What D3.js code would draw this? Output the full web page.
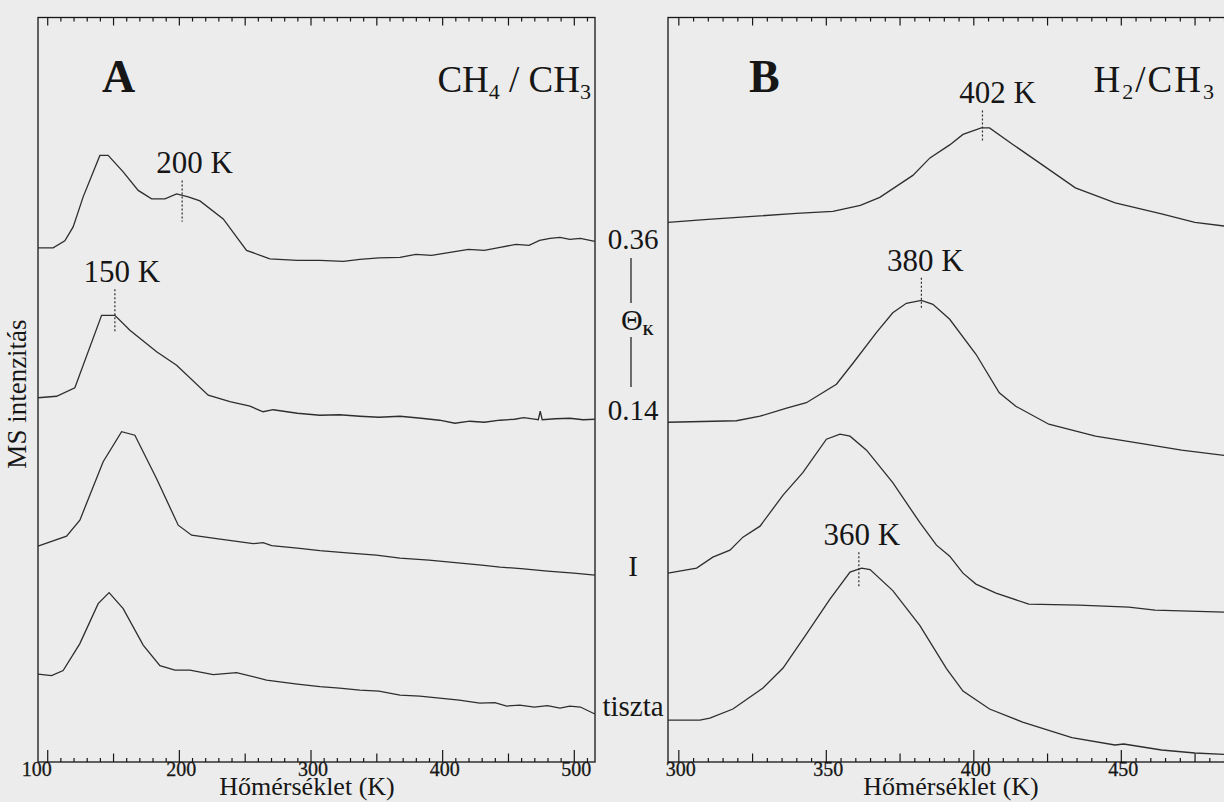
<!DOCTYPE html>
<html>
<head>
<meta charset="utf-8">
<script src="https://cdn.jsdelivr.net/npm/d3@7"></script>
<style>
body { margin: 0; background: #ececec; }
svg { display: block; font-family: "Liberation Serif", "Times New Roman", serif; }
</style>
</head>
<body>
<script>
// A panel: CH4 / CH3, [T (K), MS intensity (a.u.)]
var curveA036 = [[93,102.9],[104.5,102.9],[113.4,104.3],[119.7,107.1],[127.3,113.1],[140,121.4],[146.3,121.4],[157.7,118.1],[169.1,114.4],[179.3,112.7],[189.4,112.7],[198.3,113.7],[207.1,113.1],[216,112.3],[233.7,108.7],[251.4,102.4],[269.1,100.7],[290,100.4],[307.1,100.4],[325,100.2],[337.5,100.6],[352,100.9],[368,101],[380,101.6],[392,101.4],[406,102],[420,102.6],[432,102.4],[444,103],[456,103.6],[466,103.4],[474,104.4],[482,104.8],[489.5,105],[497,104.6],[505,104.8],[516,104.2]]
var curveA014 = [[93,72.9],[107.1,73.2],[121,74.9],[141.3,89.4],[151.4,89.4],[162.8,86.4],[183.1,82.1],[198.3,79.4],[222.3,73.4],[238.8,72.1],[254,71.2],[264,70.1],[271.7,70.5],[290,69.8],[307.1,69.4],[322,69.5],[337.5,69.2],[352,69],[368,69.2],[384,68.8],[398,68.4],[409.7,67.8],[421,68.2],[432,68],[443.9,68.4],[455,68.6],[462,68.9],[470,68.6],[473,68.5],[474.5,70.2],[476,68.5],[486,68.7],[497,68.8],[507,68.5],[516,68.6]]
var curveAI = [[93,43.2],[114.7,45.2],[124.8,48.4],[142.5,60.1],[156.5,66.1],[166.6,65.4],[183.1,56.7],[199.5,47.4],[209.7,45.4],[228.6,44.7],[256.5,43.7],[264,43.9],[270.4,43.3],[290,42.8],[307.1,42.3],[330,41.8],[350,41.4],[368,40.8],[390,40.4],[410,39.9],[430,39.4],[444,39],[460,38.7],[480,38.2],[500,37.8],[516,37.4]]
var curveAclean = [[93,17.6],[103.3,17.3],[112.1,18.3],[124.8,23.7],[138.7,31.7],[147,33.9],[157.7,30.7],[172.9,23.4],[185.6,19.3],[197,18.4],[208.4,18.4],[226.1,17.5],[243.8,17.9],[266.6,16.4],[290,15.6],[307.1,15.1],[322,14.8],[337.5,14.4],[352,14.2],[368,13.4],[383,13.2],[398,12.8],[413,12.4],[428.6,11.8],[440,11.9],[449,11.2],[459,11.4],[470,11],[480,11.3],[489.5,10.8],[497,11.2],[505,11],[516,9.6]]

// B panel: H2 / CH3
var curveB036 = [[296.5,108],[310,108.6],[327.7,109.3],[340,109.8],[352.4,110.2],[361.7,111.4],[368.3,113],[379.5,117.4],[385.3,120.9],[392,123.5],[396.5,125.6],[402.7,126.9],[405.5,126.9],[413.4,123.6],[423.4,119.5],[434.6,114.9],[448.1,111.9],[463.8,109.7],[475.1,108],[490,106.9]]
var curveB014 = [[296.5,68],[319.7,68.3],[327.7,69.2],[336.7,70.8],[343.4,71.9],[353.6,75.6],[359.2,79.8],[367.2,86],[372.7,89.9],[377.3,91.8],[382.4,92.4],[386.3,91.6],[392,88.6],[400.9,81.6],[408.8,73.9],[414.4,71.2],[425.6,67.6],[441.4,65.2],[458.2,63.6],[470.6,62.4],[490,61]]
var curveBI = [[296.5,37.8],[306.2,38.8],[311.7,41],[317.5,42.4],[321.9,45],[327.7,47.2],[335.5,53.4],[342.2,57.9],[350.2,64.6],[354.8,65.6],[358.2,65.2],[363.8,62.4],[372.7,55.9],[381.9,47.9],[387.5,43.4],[392,41.2],[396.5,37.8],[400.9,35.6],[407.7,33.8],[418.8,31.6],[435.8,31.4],[452.7,31],[461.6,30.4],[490,29.9]]
var curveBclean = [[296.5,8.4],[307.3,8.4],[310.7,8.8],[318.5,10.6],[328.7,14.8],[335.5,18.8],[343.4,25.6],[351.4,32.6],[358.2,38],[362.1,38.8],[365,38.5],[372.7,34.3],[381.9,27.3],[390.9,18.7],[396.5,14.2],[405.5,10.6],[416.7,8],[433.4,4.9],[448,3.4],[451,3.6],[463.8,2.4],[475.1,1.8],[490,1.4]]

// peak markers: label, T, top and bottom of dotted line (a.u.)
var markersA = [{label:"150 K", t:151.4, top:94.6, bottom:86.1}, {label:"200 K", t:202.5, top:116.4, bottom:108.1}]
var markersB = [{label:"402 K", t:403.1, top:130.4, bottom:124.2}, {label:"380 K", t:382.4, top:96.9, bottom:90.5}, {label:"360 K", t:361.2, top:42, bottom:35}]

var ticksA = [100, 200, 300, 400, 500]
var ticksB = [300, 350, 400, 450]
var coverageLabels = ["0.36", "0.14", "I", "tiszta"]

var W = 1224, H = 802
var plotTop = 17.5, plotBottom = 762
var svg = d3.select("body").append("svg").attr("width", W).attr("height", H)

var y = d3.scaleLinear().domain([0, 149]).range([plotBottom, plotTop])
var xA = d3.scaleLinear().domain([93, 516.1]).range([38, 595])
var xB = d3.scaleLinear().domain([296.5, 500]).range([668, 1268.3])

var ink = "#161616"
var lineCol = "#2e2e2e"

// label offsets (px) relative to dotted marker
var labelDx = {"150 K": 7, "200 K": 12.5, "402 K": 15, "380 K": 4, "360 K": 3}

function panel(x, curves, markers, lo, hi, minor, mid, major, topMajor, labels, firstDx) {
  var g = svg.append("g")

  g.append("rect")
    .attr("x", x.range()[0]).attr("y", plotTop)
    .attr("width", x.range()[1] - x.range()[0]).attr("height", plotBottom - plotTop)
    .attr("fill", "none").attr("stroke", ink).attr("stroke-width", 1.3)

  // bottom ticks (inward)
  var bAx = g.append("g").attr("transform", "translate(0," + plotBottom + ")")
    .call(d3.axisBottom(x).tickValues(d3.range(lo, hi + 0.1, minor)).tickSize(-4).tickFormat(""))
  bAx.select(".domain").remove()
  bAx.selectAll(".tick line")
    .attr("y2", d => d % major === 0 ? -12 : d % mid === 0 ? -8.5 : -4)
    .attr("stroke", ink).attr("stroke-width", 1.2)

  // tick labels
  var lAx = g.append("g").attr("transform", "translate(0," + plotBottom + ")")
    .call(d3.axisBottom(x).tickValues(labels).tickSize(0).tickPadding(0))
  lAx.select(".domain").remove()
  lAx.selectAll("text")
    .attr("font-family", "Liberation Serif").attr("font-size", 20).attr("fill", ink)
    .attr("stroke", ink).attr("stroke-width", 0.3)
    .attr("dx", (d, i) => i === 0 ? firstDx : 2)

  // top ticks (inward)
  var tAx = g.append("g").attr("transform", "translate(0," + plotTop + ")")
    .call(d3.axisTop(x).tickValues(d3.range(lo, hi + 0.1, minor)).tickSize(-4).tickFormat(""))
  tAx.select(".domain").remove()
  tAx.selectAll(".tick line")
    .attr("y2", d => d % topMajor === 0 ? 8 : 4)
    .attr("stroke", ink).attr("stroke-width", 1.2)

  var line = d3.line().x(d => x(d[0])).y(d => y(d[1]))
  g.selectAll("path.curve").data(curves).enter().append("path")
    .attr("class", "curve")
    .attr("d", line)
    .attr("fill", "none").attr("stroke", lineCol).attr("stroke-width", 1.3)

  g.selectAll("line.mark").data(markers).enter().append("line")
    .attr("class", "mark")
    .attr("x1", d => x(d.t)).attr("x2", d => x(d.t))
    .attr("y1", d => y(d.top)).attr("y2", d => y(d.bottom))
    .attr("stroke", lineCol).attr("stroke-width", 1.2).attr("stroke-dasharray", "2,2")

  g.selectAll("text.mark").data(markers).enter().append("text")
    .attr("class", "mark")
    .attr("x", d => x(d.t) + labelDx[d.label]).attr("y", d => y(d.top) - 7)
    .attr("text-anchor", "middle").attr("font-size", 31).attr("fill", ink)
    .text(d => d.label)
  return g
}

panel(xA, [curveA036, curveA014, curveAI, curveAclean], markersA, 100, 510, 10, 50, 100, 50, ticksA, -11)
panel(xB, [curveB036, curveB014, curveBI, curveBclean], markersB, 300, 495, 5, 25, 50, 25, ticksB, 2)

// panel letters and gas labels
svg.append("text").attr("x", 102).attr("y", 92).attr("font-size", 46).attr("font-weight", "bold").attr("fill", ink).text("A")
svg.append("text").attr("x", 749).attr("y", 92).attr("font-size", 46).attr("font-weight", "bold").attr("fill", ink).text("B")

function chem(xPos, parts, spacing) {
  var t = svg.append("text").attr("x", xPos).attr("y", 92).attr("text-anchor", "end")
    .attr("font-size", 37).attr("letter-spacing", spacing).attr("fill", ink)
  parts.forEach(function(p) {
    if (p.sub) t.append("tspan").attr("font-size", 22).attr("dy", 7).text(p.s)
    else t.append("tspan").attr("dy", p.after ? -7 : 0).text(p.s)
  })
}
chem(591, [{s:"CH"}, {s:"4", sub:true}, {s:" / CH", after:true}, {s:"3", sub:true}], 0)
chem(1216, [{s:"H"}, {s:"2", sub:true}, {s:"/CH", after:true}, {s:"3", sub:true}], 2)

// coverage labels between the panels
var covY = [249, 420, 576, 716]
svg.selectAll("text.cov").data(coverageLabels).enter().append("text")
  .attr("class", "cov")
  .attr("x", 633).attr("y", (d, i) => covY[i])
  .attr("text-anchor", "middle").attr("font-size", 29).attr("fill", ink)
  .text(d => d)

svg.append("line").attr("x1", 631).attr("x2", 631).attr("y1", 258).attr("y2", 303).attr("stroke", ink).attr("stroke-width", 1.2)
svg.append("line").attr("x1", 631).attr("x2", 631).attr("y1", 337).attr("y2", 387).attr("stroke", ink).attr("stroke-width", 1.2)
var th = svg.append("text").attr("x", 621).attr("y", 330).attr("font-size", 30).attr("fill", ink)
th.append("tspan").text("Θ")
th.append("tspan").attr("font-size", 14).attr("font-weight", "bold").attr("dy", 5).text("K")

// axis titles
svg.append("text").attr("transform", "translate(26,394) rotate(-90)")
  .attr("text-anchor", "middle").attr("font-size", 27).attr("fill", ink).text("MS intenzitás")
svg.append("text").attr("x", 307).attr("y", 795).attr("text-anchor", "middle")
  .attr("font-size", 26).attr("fill", ink).text("Hőmérséklet (K)")
svg.append("text").attr("x", 951).attr("y", 795).attr("text-anchor", "middle")
  .attr("font-size", 26).attr("fill", ink).text("Hőmérséklet (K)")
</script>
</body>
</html>
